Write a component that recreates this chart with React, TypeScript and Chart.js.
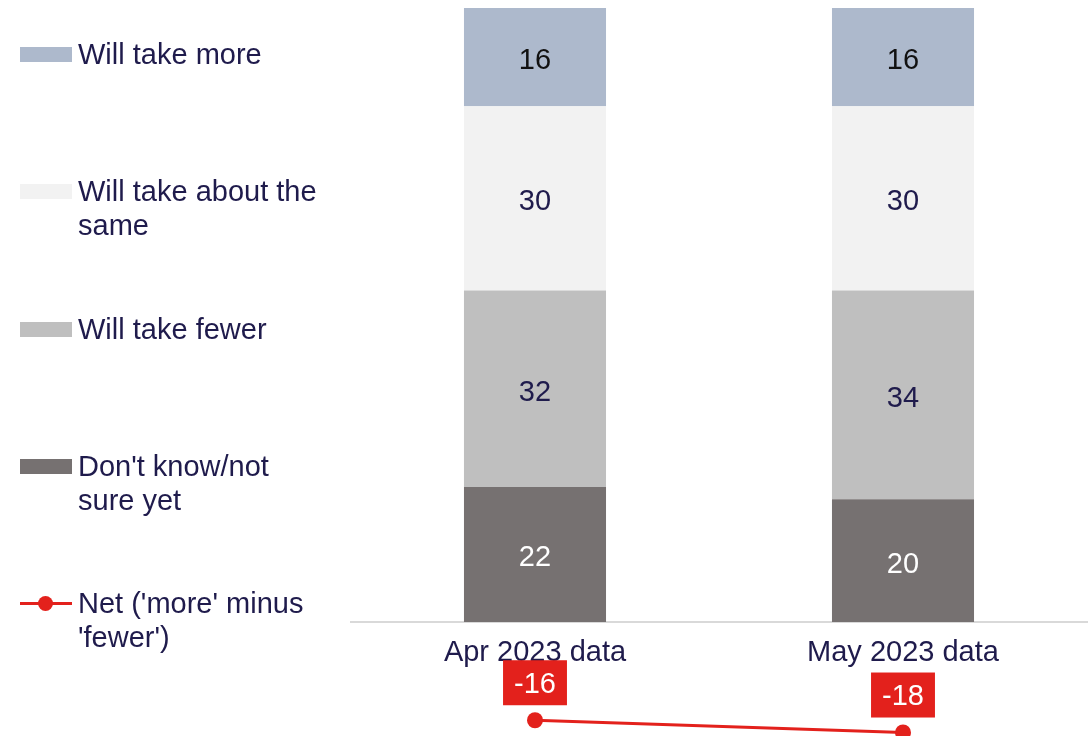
import React, { useEffect, useRef } from "react";
import { Chart, registerables } from "chart.js";

Chart.register(...registerables);

const categories = ["Apr 2023 data", "May 2023 data"];
const dontKnow = [22, 20];
const fewer = [32, 34];
const aboutSame = [30, 30];
const more = [16, 16];
const net = [-16, -18];

const seriesNames = [
  "Will take more",
  "Will take about the same",
  "Will take fewer",
  "Don't know/not sure yet",
  "Net ('more' minus 'fewer')",
];

const colMore = "#adb9cc";
const colSame = "#f2f2f2";
const colFewer = "#bfbfbf";
const colDk = "#767171";
const colNet = "#e3211c";
const navy = "#1f1b4c";
const FONT = "'Liberation Sans', Arial, sans-serif";

const labelColors: Record<string, string> = {
  [seriesNames[0]]: "#111111",
  [seriesNames[1]]: navy,
  [seriesNames[2]]: navy,
  [seriesNames[3]]: "#ffffff",
};

const labelPlugin = {
  id: "valueLabels",
  afterDatasetsDraw(chart: any) {
    const ctx = chart.ctx;
    const area = chart.chartArea;
    const xScale = chart.scales.x;
    ctx.save();
    ctx.font = `29px ${FONT}`;
    ctx.textAlign = "center";
    ctx.textBaseline = "middle";
    // category labels
    ctx.fillStyle = navy;
    categories.forEach((c, i) => {
      ctx.fillText(c, xScale.getPixelForValue(i), area.bottom + 31);
    });
    chart.data.datasets.forEach((ds: any, di: number) => {
      const meta = chart.getDatasetMeta(di);
      meta.data.forEach((el: any, i: number) => {
        const v = ds.data[i];
        if (ds.type === "line") {
          // point marker (drawn here since it lies outside the chart area)
          ctx.fillStyle = colNet;
          ctx.beginPath();
          ctx.arc(el.x, el.y, 8, 0, Math.PI * 2);
          ctx.fill();
          const txt = String(v);
          const w = ctx.measureText(txt).width + 22;
          const h = 45;
          const bx = el.x - w / 2;
          const by = el.y - 15 - h;
          ctx.fillStyle = colNet;
          ctx.fillRect(bx, by, w, h);
          ctx.fillStyle = "#ffffff";
          ctx.fillText(txt, el.x, by + h / 2 + 2);
        } else {
          const cy = (el.y + el.base) / 2;
          ctx.fillStyle = labelColors[ds.label] || navy;
          ctx.fillText(String(v), el.x, cy + 4);
        }
      });
    });
    ctx.restore();
  },
};

export default function App() {
  const ref = useRef<HTMLCanvasElement | null>(null);

  useEffect(() => {
    if (!ref.current) return;
    const chart = new Chart(ref.current, {
      data: {
        labels: categories,
        datasets: [
          { type: "bar", label: seriesNames[3], data: dontKnow, backgroundColor: colDk, yAxisID: "y" },
          { type: "bar", label: seriesNames[2], data: fewer, backgroundColor: colFewer, yAxisID: "y" },
          { type: "bar", label: seriesNames[1], data: aboutSame, backgroundColor: colSame, yAxisID: "y" },
          { type: "bar", label: seriesNames[0], data: more, backgroundColor: colMore, yAxisID: "y" },
          {
            type: "line",
            label: seriesNames[4],
            data: net,
            borderColor: colNet,
            backgroundColor: colNet,
            borderWidth: 3,
            pointRadius: 8,
            pointBackgroundColor: colNet,
            pointBorderColor: colNet,
            yAxisID: "y2",
            clip: false,
          } as any,
        ],
      },
      options: {
        animation: false,
        responsive: false,
        maintainAspectRatio: false,
        layout: { autoPadding: false, padding: { left: 351, top: 8, right: 1, bottom: 0 } },
        datasets: { bar: { barPercentage: 0.386, categoryPercentage: 1 } },
        plugins: { legend: { display: false }, tooltip: { enabled: false } },
        scales: {
          x: {
            stacked: true,
            offset: true,
            grid: { display: false },
            border: { display: true, color: "#d9d9d9", width: 2 },
            ticks: { display: false },
            afterFit: (scale: any) => {
              scale.height = 114;
            },
          },
          y: { stacked: true, display: false, min: 0, max: 100 },
          y2: { stacked: false, display: false, min: 0, max: 100 },
        },
      } as any,
      plugins: [labelPlugin],
    });
    return () => chart.destroy();
  }, []);

  const legendItems = [
    { name: seriesNames[0], color: colMore, kind: "box", y: 54 },
    { name: seriesNames[1], color: colSame, kind: "box", y: 191 },
    { name: seriesNames[2], color: colFewer, kind: "box", y: 329 },
    { name: seriesNames[3], color: colDk, kind: "box", y: 466 },
    { name: seriesNames[4], color: colNet, kind: "line", y: 603 },
  ];

  return (
    <div style={{ position: "fixed", left: 0, top: 0, width: 1088, height: 736, background: "#fff", overflow: "hidden" }}>
      <canvas ref={ref} width={1088} height={736} style={{ position: "absolute", left: 0, top: 0, width: 1088, height: 736 }} />
      {legendItems.map((it) => (
        <div key={it.name} style={{ position: "absolute", left: 0, top: it.y - 17, height: 100 }}>
          {it.kind === "box" ? (
            <div style={{ position: "absolute", left: 20, top: 10, width: 52, height: 15, background: it.color }} />
          ) : (
            <div style={{ position: "absolute", left: 20, top: 8, width: 52, height: 18 }}>
              <div style={{ position: "absolute", left: 0, top: 8, width: 52, height: 3, background: it.color }} />
              <div style={{ position: "absolute", left: 18, top: 2, width: 15, height: 15, borderRadius: "50%", background: it.color }} />
            </div>
          )}
          <div
            style={{
              position: "absolute",
              left: 78,
              top: 0,
              width: 255,
              fontFamily: FONT,
              fontSize: 29,
              lineHeight: "34px",
              color: navy,
            }}
          >
            {it.name}
          </div>
        </div>
      ))}
    </div>
  );
}
